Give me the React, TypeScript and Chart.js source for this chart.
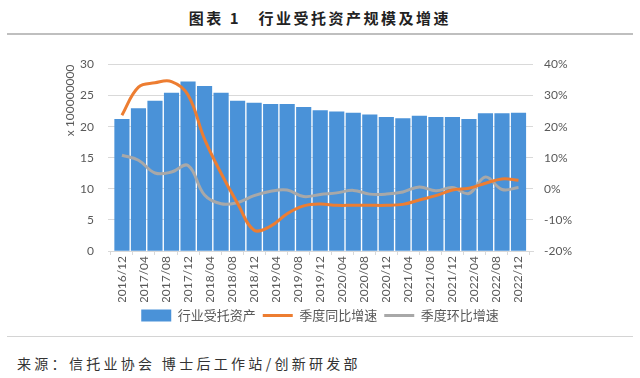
import React, { useEffect, useRef } from "react";
import { Chart, registerables } from "chart.js";

Chart.register(...registerables);

// Quarter-end dates of each observation
const quarters = [
  "2016/12", "2017/03", "2017/06", "2017/09", "2017/12",
  "2018/03", "2018/06", "2018/09", "2018/12",
  "2019/03", "2019/06", "2019/09", "2019/12",
  "2020/03", "2020/06", "2020/09", "2020/12",
  "2021/03", "2021/06", "2021/09", "2021/12",
  "2022/03", "2022/06", "2022/09", "2022/12",
];

// Axis tick labels (every 4 months)
const tickLabels = [
  "2016/12", "2017/04", "2017/08", "2017/12", "2018/04", "2018/08", "2018/12",
  "2019/04", "2019/08", "2019/12", "2020/04", "2020/08", "2020/12",
  "2021/04", "2021/08", "2021/12", "2022/04", "2022/08", "2022/12",
];

// 行业受托资产 (x 100000000)
const assets = [
  21.2, 22.9, 24.1, 25.4, 27.2, 26.5, 25.4, 24.1, 23.8, 23.6, 23.6, 23.1, 22.6,
  22.4, 22.2, 21.9, 21.5, 21.3, 21.7, 21.5, 21.5, 21.2, 22.1, 22.1, 22.2,
];

// 季度同比增速 (%)
const yoy = [
  23.7, 32.7, 34.1, 34.5, 30.2, 16.0, 5.0, -4.7, -13.3, -12.0, -8.0, -5.5, -4.9,
  -5.3, -5.3, -5.3, -5.3, -5.0, -3.6, -2.2, -0.4, 0.2, 1.8, 3.2, 2.8,
];

// 季度环比增速 (%)
const qoq = [
  10.8, 9.2, 5.1, 5.4, 7.5, -2.0, -4.8, -4.4, -2.2, -0.8, -0.4, -2.5, -1.8,
  -1.3, -0.5, -1.7, -1.7, -1.0, 0.6, -0.6, 0.4, -1.5, 3.8, -0.2, 0.4,
];

const seriesNames = ["行业受托资产", "季度同比增速", "季度环比增速"];
const seriesColors = ["#4a92d8", "#ed7d31", "#a8a8a8"];

const monthIndex = (q: string) => {
  const [y, m] = q.split("/").map(Number);
  return (y - 2016) * 12 + m - 12;
};

const tickFont = { family: "Lato, 'Open Sans', sans-serif", size: 12 };
const tickColor = "#595959";

export default function App() {
  const canvasRef = useRef<HTMLCanvasElement | null>(null);

  useEffect(() => {
    if (!canvasRef.current) return;
    const toPts = (vals: number[]) =>
      quarters.map((q, i) => ({ x: monthIndex(q), y: vals[i] }));

    const chart = new Chart(canvasRef.current, {
      type: "bar",
      data: {
        datasets: [
          {
            type: "bar",
            label: seriesNames[0],
            data: toPts(assets),
            backgroundColor: seriesColors[0],
            barThickness: 14.5,
            yAxisID: "y",
            order: 3,
          } as any,
          {
            type: "line",
            label: seriesNames[1],
            data: toPts(yoy),
            borderColor: seriesColors[1],
            backgroundColor: seriesColors[1],
            borderWidth: 3,
            pointRadius: 0,
            tension: 0.4,
            yAxisID: "y1",
            order: 1,
          } as any,
          {
            type: "line",
            label: seriesNames[2],
            data: toPts(qoq),
            borderColor: seriesColors[2],
            backgroundColor: seriesColors[2],
            borderWidth: 3,
            pointRadius: 0,
            tension: 0.4,
            yAxisID: "y1",
            order: 2,
          } as any,
        ],
      },
      options: {
        responsive: false,
        animation: false,
        devicePixelRatio: 1,
        layout: { padding: { left: 0, right: 0, top: 24.5, bottom: 8 } },
        plugins: {
          tooltip: { enabled: false },
          legend: {
            position: "bottom",
            labels: {
              usePointStyle: true,
              pointStyleWidth: 30,
              boxHeight: 12,
              padding: 7,
              color: tickColor,
              font: { family: "'Noto Sans CJK SC', sans-serif", size: 13 },
              generateLabels: () =>
                seriesNames.map((name, i) => ({
                  text: name,
                  datasetIndex: i,
                  fillStyle: seriesColors[i],
                  strokeStyle: seriesColors[i],
                  lineWidth: i === 0 ? 0 : 3,
                  pointStyle: i === 0 ? "rect" : "line",
                  hidden: false,
                  fontColor: tickColor,
                })) as any,
            },
          },
        },
        scales: {
          x: {
            type: "linear",
            min: -0.5,
            max: 72.6,
            afterBuildTicks: (s: any) => {
              s.ticks = tickLabels.map((_, i) => ({ value: i * 4 }));
            },
            afterFit: (s: any) => {
              s.height = 51;
            },
            ticks: {
              autoSkip: false,
              minRotation: 90,
              maxRotation: 90,
              padding: 1,
              color: tickColor,
              font: tickFont,
              callback: (_v: any, i: number) => tickLabels[i],
            },
            grid: {
              drawOnChartArea: false,
              drawTicks: true,
              tickLength: 4,
              color: "#d9d9d9",
            },
            border: { display: true, color: "#d9d9d9" },
          },
          y: {
            position: "left",
            min: 0,
            max: 30,
            afterFit: (s: any) => {
              s.width = 108;
            },
            ticks: { stepSize: 5, padding: 14, color: tickColor, font: tickFont },
            grid: { color: "#d9d9d9", drawTicks: false },
            border: { display: false },
            title: {
              display: true,
              text: "x 100000000",
              align: "end",
              color: tickColor,
              font: tickFont,
              padding: { top: 62.5, bottom: 0 },
            },
          },
          y1: {
            position: "right",
            min: -20,
            max: 40,
            afterFit: (s: any) => {
              s.width = 107;
            },
            ticks: {
              stepSize: 10,
              padding: 11,
              color: tickColor,
              font: tickFont,
              callback: (v: any) => `${v}%`,
            },
            grid: { drawOnChartArea: false, drawTicks: false },
            border: { display: false },
          },
        },
      } as any,
    });
    return () => chart.destroy();
  }, []);

  return (
    <div
      style={{
        position: "absolute",
        left: 0,
        top: 0,
        width: 640,
        height: 378,
        background: "#ffffff",
        overflow: "hidden",
      }}
    >
      <div
        style={{
          position: "absolute",
          left: 0,
          top: 8,
          width: 640,
          textAlign: "center",
          fontFamily: "'Noto Sans CJK SC', sans-serif",
          fontWeight: 700,
          fontSize: 15,
          letterSpacing: 2.5,
          lineHeight: "20px",
          color: "#222222",
        }}
      >
        图表 1　行业受托资产规模及增速
      </div>
      <div
        style={{
          position: "absolute",
          left: 7,
          top: 33,
          width: 626,
          height: 2,
          background: "#bfbfbf",
        }}
      />
      <canvas
        ref={canvasRef}
        width={640}
        height={300}
        style={{ position: "absolute", left: 0, top: 40, width: 640, height: 300 }}
      />
      <div
        style={{
          position: "absolute",
          left: 7,
          top: 336,
          width: 626,
          height: 1,
          background: "#d4d4d4",
        }}
      />
      <div
        style={{
          position: "absolute",
          left: 17,
          top: 353,
          fontFamily: "'Noto Sans CJK SC', sans-serif",
          fontSize: 14,
          letterSpacing: 3.3,
          lineHeight: "20px",
          color: "#333333",
          whiteSpace: "nowrap",
        }}
      >
        来源：信托业协会 博士后工作站/创新研发部
      </div>
    </div>
  );
}
